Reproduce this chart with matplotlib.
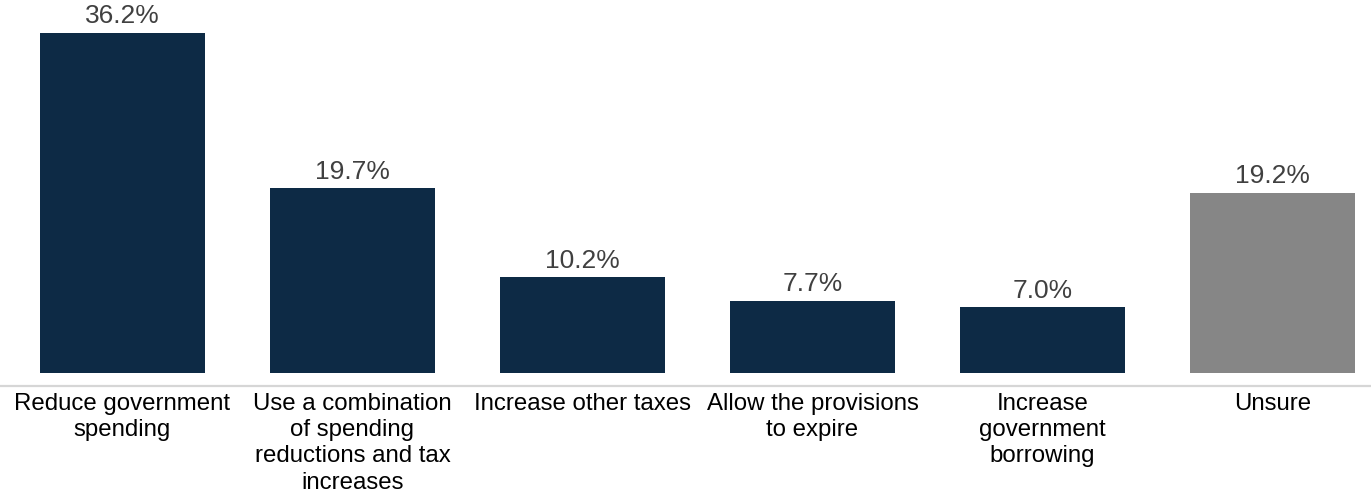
import numpy as np
import matplotlib
matplotlib.use('Agg')
import matplotlib.pyplot as plt

NAVY = '#0d2a45'
GRAY = '#868686'

categories = [
    'Reduce government\nspending',
    'Use a combination\nof spending\nreductions and tax\nincreases',
    'Increase other taxes',
    'Allow the provisions\nto expire',
    'Increase\ngovernment\nborrowing',
    'Unsure',
]
values = [36.2, 19.7, 10.2, 7.7, 7.0, 19.2]
colors = [NAVY, NAVY, NAVY, NAVY, NAVY, GRAY]

plt.rcParams['font.family'] = ['Liberation Sans', 'DejaVu Sans']

fig = plt.figure(figsize=(13.71, 4.97), dpi=100)
ax = fig.add_axes([0, 1 - 386 / 497, 1, 386 / 497])

x = np.arange(len(values))
bars = ax.bar(x, values, width=165 / 230, color=colors, edgecolor='none')

for b, v in zip(bars, values):
    ax.text(b.get_x() + b.get_width() / 2, v + 0.45, f'{v:.1f}%',
            ha='center', va='bottom', fontsize=19, color='#404040')

ax.set_xlim(-122.5 / 230, (1371 - 122.5) / 230)
ax.set_ylim(-1.38, 39.68)
ax.set_xticks(x)
ax.set_xticklabels(categories, fontsize=17.3, color='black', linespacing=1.25)
ax.tick_params(axis='x', length=0, pad=5)
ax.set_yticks([])
for side in ['top', 'right', 'left']:
    ax.spines[side].set_visible(False)
ax.spines['bottom'].set_color('#d6d6d6')
ax.spines['bottom'].set_linewidth(1.6)

fig.savefig('out.png', dpi=100, facecolor='white')
